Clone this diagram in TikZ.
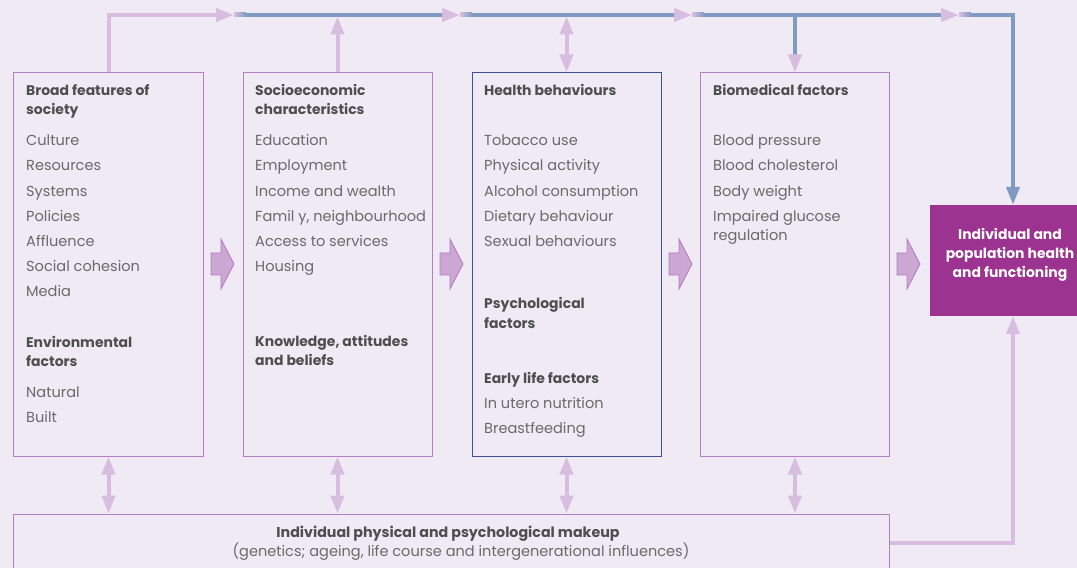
\documentclass[tikz,border=0pt]{standalone}
\usepackage{fontspec}
\setmainfont{Poppins}
\usetikzlibrary{arrows.meta}

\definecolor{bgcol}{HTML}{F0EAF4}
\definecolor{boxline}{HTML}{B47FC3}
\definecolor{healthline}{HTML}{3E5190}
\definecolor{headgray}{HTML}{4E4E50}
\definecolor{itemgray}{HTML}{6A696B}
\definecolor{outcomefill}{HTML}{9C3390}
\definecolor{arrowfill}{HTML}{CDA7D3}
\definecolor{arrowline}{HTML}{B27BC0}
\definecolor{lilac}{HTML}{D7BEE0}
\definecolor{steel}{HTML}{809AC2}

\tikzset{
	factorbox/.style={draw=boxline, line width=1bp, minimum width=189bp, minimum height=383bp, inner sep=0pt},
	headtext/.style={anchor=base west, inner sep=0pt, text=headgray, font=\bfseries\fontsize{14}{16}\selectfont},
	itemtext/.style={anchor=base west, inner sep=0pt, text=itemgray, font=\fontsize{14.6}{16}\selectfont},
	bigarrow/.style={draw=arrowline, fill=arrowfill, line width=0.8bp},
	lilacline/.style={draw=lilac, line width=4bp},
	blueline/.style={draw=steel, line width=4bp},
	ltip/.style={-{Triangle[length=18bp,width=13bp,color=lilac]}},
	dtip/.style={{Triangle[length=18bp,width=13bp]}-{Triangle[length=18bp,width=13bp]}}
}

\begin{document}
\begin{tikzpicture}[x=1bp,y=-1bp]
	\useasboundingbox (0,0) rectangle (1077,568);
	\fill[bgcol] (0,0) rectangle (1077,568);

	% boxes
	\node[factorbox] (society) at (108.5,264.5) {};
	\node[factorbox] (socio) at (337.5,264.5) {};
	\node[factorbox, draw=healthline] (health) at (566.5,264.5) {};
	\node[factorbox] (biomed) at (795,264.5) {};
	\node[fill=outcomefill, minimum width=166bp, minimum height=111bp, inner sep=0pt] (outcome) at (1013,260.5) {};
	\node[text=white, align=center, inner sep=0pt, font=\bfseries\fontsize{14}{19}\selectfont] (outtext) at (1010,255) {Individual and\\population health\\and functioning};
	\node[draw=boxline, line width=1bp, minimum width=875bp, minimum height=58bp, inner sep=0pt] (makeup) at (451.5,543) {};

	% broad features of society
	\node[headtext] (broad) at (26,96) {Broad features of};
	\node[headtext] (broadb) at (26,115) {society};
	\node[itemtext] (culture) at (26,146) {Culture};
	\node[itemtext] (resources) at (26,171) {Resources};
	\node[itemtext] (systems) at (26,197) {Systems};
	\node[itemtext] (policies) at (26,222) {Policies};
	\node[itemtext] (affluence) at (26,247) {Affluence};
	\node[itemtext] (cohesion) at (26,272) {Social cohesion};
	\node[itemtext] (media) at (26,297) {Media};
	\node[headtext] (env) at (26,347) {Environmental};
	\node[headtext] (envb) at (26,366) {factors};
	\node[itemtext] (natural) at (26,397) {Natural};
	\node[itemtext] (built) at (26,422) {Built};

	% socioeconomic characteristics
	\node[headtext] (soc) at (255,96) {Socioeconomic};
	\node[headtext] (socb) at (255,115) {characteristics};
	\node[itemtext] (education) at (255,146) {Education};
	\node[itemtext] (employment) at (255,171) {Employment};
	\node[itemtext] (income) at (255,197) {Income and wealth};
	\node[itemtext] (family) at (255,222) {Famil y, neighbourhood};
	\node[itemtext] (access) at (255,247) {Access to services};
	\node[itemtext] (housing) at (255,272) {Housing};
	\node[headtext] (know) at (255,346) {Knowledge, attitudes};
	\node[headtext] (knowb) at (255,365) {and beliefs};

	% health behaviours
	\node[headtext] (hb) at (484,96) {Health behaviours};
	\node[itemtext] (tobacco) at (484,146) {Tobacco use};
	\node[itemtext] (physical) at (484,171) {Physical activity};
	\node[itemtext] (alcohol) at (484,197) {Alcohol consumption};
	\node[itemtext] (dietary) at (484,222) {Dietary behaviour};
	\node[itemtext] (sexual) at (484,247) {Sexual behaviours};
	\node[headtext] (psych) at (484,309) {Psychological};
	\node[headtext] (psychb) at (484,328) {factors};
	\node[headtext] (early) at (484,383) {Early life factors};
	\node[itemtext] (utero) at (484,408) {In utero nutrition};
	\node[itemtext] (breast) at (484,433) {Breastfeeding};

	% biomedical factors
	\node[headtext] (bio) at (713,96) {Biomedical factors};
	\node[itemtext] (pressure) at (713,146) {Blood pressure};
	\node[itemtext] (cholesterol) at (713,171) {Blood cholesterol};
	\node[itemtext] (weight) at (713,197) {Body weight};
	\node[itemtext] (glucose) at (713,222) {Impaired glucose};
	\node[itemtext] (regulation) at (713,241) {regulation};

	% makeup
	\node[anchor=base, inner sep=0pt, text=headgray, font=\bfseries\fontsize{14.3}{15}\selectfont] (mk) at (448,537) {Individual physical and psychological makeup};
	\node[anchor=base, inner sep=0pt, text=itemgray, font=\fontsize{14.6}{15}\selectfont] (mkb) at (461,556) {(genetics; ageing, life course and intergenerational influences)};

	% block arrows
	\coordinate (a1) at (211,264);
	\coordinate (a2) at (440,264);
	\coordinate (a3) at (669,264);
	\coordinate (a4) at (897,264);
	\filldraw[bigarrow] (a1) ++(0,-11) -- ++(10,0) -- ++(0,-14) -- ++(13,25) -- ++(-13,25) -- ++(0,-14) -- ++(-10,0) -- cycle;
	\filldraw[bigarrow] (a2) ++(0,-11) -- ++(10,0) -- ++(0,-14) -- ++(13,25) -- ++(-13,25) -- ++(0,-14) -- ++(-10,0) -- cycle;
	\filldraw[bigarrow] (a3) ++(0,-11) -- ++(10,0) -- ++(0,-14) -- ++(13,25) -- ++(-13,25) -- ++(0,-14) -- ++(-10,0) -- cycle;
	\filldraw[bigarrow] (a4) ++(0,-11) -- ++(10,0) -- ++(0,-14) -- ++(13,25) -- ++(-13,25) -- ++(0,-14) -- ++(-10,0) -- cycle;

	% top line
	\coordinate (t1) at (234,15);
	\coordinate (t2) at (460,15);
	\coordinate (t3) at (692,15);
	\coordinate (t4) at (959,15);
	\draw[lilacline, ltip] (society.north) |- (t1);
	\draw[blueline, ltip] (t1) -- (t2);
	\draw[blueline, ltip] (t2) -- (t3);
	\draw[blueline, ltip] (t3) -- (t4);
	\draw[blueline, -{Triangle[length=18bp,width=13bp]}] (t4) -| (outcome.north);
	\shade[left color=lilac, right color=steel] (t1) ++(0,-2) rectangle ++(12,4);
	\shade[left color=lilac, right color=steel] (t2) ++(0,-2) rectangle ++(12,4);
	\shade[left color=lilac, right color=steel] (t3) ++(0,-2) rectangle ++(12,4);
	\shade[left color=lilac, right color=steel] (t4) ++(0,-2) rectangle ++(12,4);

	\draw[lilacline, ltip] (socio.north) -- ++(0,-56);
	\draw[lilacline, dtip, lilac] (health.north) -- ++(0,-56);
	\draw[blueline, ltip] (biomed.north |- t1) -- (biomed.north);

	% links to makeup
	\draw[lilacline, dtip, lilac] (society.south) -- (society.south |- makeup.north);
	\draw[lilacline, dtip, lilac] (socio.south) -- (socio.south |- makeup.north);
	\draw[lilacline, dtip, lilac] (health.south) -- (health.south |- makeup.north);
	\draw[lilacline, dtip, lilac] (biomed.south) -- (biomed.south |- makeup.north);
	\draw[lilacline, ltip] (makeup.east) -| (outcome.south);
\end{tikzpicture}
\end{document}
